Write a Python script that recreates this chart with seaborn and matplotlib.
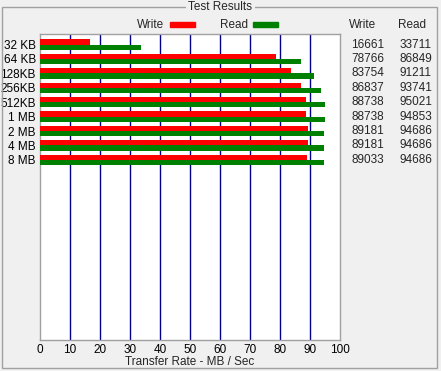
import matplotlib
matplotlib.use("Agg")
import matplotlib.pyplot as plt
import matplotlib.patches as mpatches
import matplotlib.transforms as mtransforms
import pandas as pd
import seaborn as sns

# Block sizes and measured transfer rates (KB/s)
sizes = ["32 KB", "64 KB", "128KB", "256KB", "512KB", "1 MB", "2 MB", "4 MB", "8 MB"]
write_kb = [16661, 78766, 83754, 86837, 88738, 88738, 89181, 89181, 89033]
read_kb = [33711, 86849, 91211, 93741, 95021, 94853, 94686, 94686, 94686]
x_ticks = [0, 10, 20, 30, 40, 50, 60, 70, 80, 90, 100]

W, H = 441, 371
bg = "#f0f0f0"
fs = 8.5

sns.set_theme(style="white")
plt.rcParams["font.family"] = ["Liberation Sans", "DejaVu Sans"]

df = pd.DataFrame({
    "size": sizes * 2,
    "rate": [v / 1000 for v in write_kb] + [v / 1000 for v in read_kb],
    "kind": ["Write"] * len(sizes) + ["Read"] * len(sizes),
})

fig = plt.figure(figsize=(W / 100, H / 100), dpi=100, facecolor=bg)
ax = fig.add_axes([40 / W, (H - 340) / H, 300 / W, 306 / H])
ax.set_facecolor("white")

sns.barplot(data=df, y="size", x="rate", hue="kind", order=sizes,
            hue_order=["Write", "Read"], palette=["#ff0000", "#008000"],
            orient="h", width=0.72, ax=ax, legend=False, saturation=1,
            edgecolor="none", linewidth=0, zorder=3)

# grid lines
for t in x_ticks[1:-1]:
    ax.axvline(t, color="#00008b", lw=1, zorder=1)

ax.set_xlim(0, 100)
ax.set_ylim(20.5, -0.73)
ax.set_xticks(x_ticks)
ax.set_xticklabels([str(t) for t in x_ticks])
ax.tick_params(axis="both", length=0, pad=3, labelsize=fs, colors="black")
ax.set_xlabel("Transfer Rate - MB / Sec", fontsize=fs, labelpad=0)
ax.set_ylabel("")
for s in ax.spines.values():
    s.set_color("#a0a0a0")
    s.set_linewidth(1)

# value columns on the right
tr = mtransforms.blended_transform_factory(fig.transFigure, ax.transData)
for i, (w, r) in enumerate(zip(write_kb, read_kb)):
    ax.text(384 / W, i, str(w), transform=tr, ha="right", va="center", fontsize=fs)
    ax.text(432 / W, i, str(r), transform=tr, ha="right", va="center", fontsize=fs)

# headers and legend
fig.text(349 / W, 1 - 25 / H, "Write", ha="left", va="center", fontsize=fs)
fig.text(398 / W, 1 - 25 / H, "Read", ha="left", va="center", fontsize=fs)
fig.text(137 / W, 1 - 25 / H, "Write", ha="left", va="center", fontsize=fs)
fig.text(220 / W, 1 - 25 / H, "Read", ha="left", va="center", fontsize=fs)
fig.patches.append(mpatches.Rectangle((170 / W, 1 - 27 / H), 25 / W, 5 / H,
                                      transform=fig.transFigure, color="#ff0000"))
fig.patches.append(mpatches.Rectangle((253 / W, 1 - 27 / H), 25 / W, 5 / H,
                                      transform=fig.transFigure, color="#008000"))

# group box frame
fig.patches.append(mpatches.Rectangle((2 / W, 3 / H), 435 / W, 361 / H,
                                      transform=fig.transFigure, fill=False,
                                      edgecolor="#a0a0a0", lw=1))
fig.text(W / 2 / W, 1 - 7 / H, "Test Results", ha="center", va="center", fontsize=fs,
         bbox=dict(facecolor=bg, edgecolor="none", pad=1.5))

fig.savefig("out.png", dpi=100, facecolor=bg)
